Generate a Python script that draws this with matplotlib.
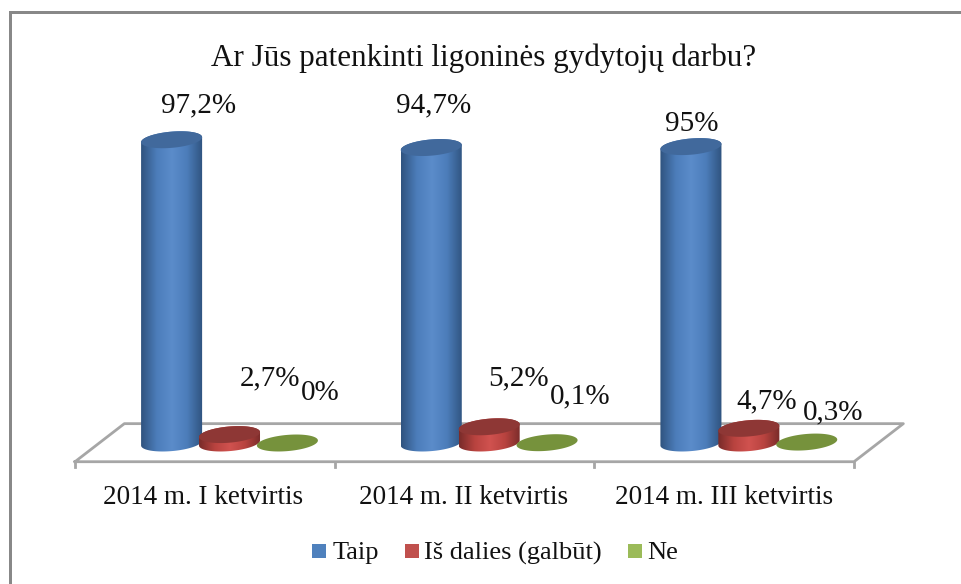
import numpy as np
import matplotlib
matplotlib.use('Agg')
import matplotlib.pyplot as plt
from matplotlib.colors import LinearSegmentedColormap
from matplotlib.patches import Polygon, Rectangle

plt.rcParams['font.family'] = ['Liberation Serif', 'DejaVu Serif']

# Data
quarters = ['2014 m. I ketvirtis', '2014 m. II ketvirtis', '2014 m. III ketvirtis']
taip = [97.2, 94.7, 95]
is_dalies = [2.7, 5.2, 4.7]
ne = [0, 0.1, 0.3]
taip_labels = ['97,2%', '94,7%', '95%']
is_dalies_labels = ['2,7%', '5,2%', '4,7%']
ne_labels = ['0%', '0,1%', '0,3%']
series_names = ['Taip', 'Iš dalies (galbūt)', 'Ne']

W, H = 961, 584
X0, X1 = 75, 854
Y_ZERO, PX_PER_PCT = 443, 3.12
Y_MIN = -12
BAR_W = 0.235
ELL_H = 2.6
TILT = 0.8

fig = plt.figure(figsize=(W / 100, H / 100), dpi=100)
ax = fig.add_axes([X0 / W, 1 - (Y_ZERO - Y_MIN * PX_PER_PCT) / H, (X1 - X0) / W, (100 - Y_MIN) * PX_PER_PCT / H])
ax.axis('off')

# chart frame, only the top and left edges are in the picture
frame_c = '#888888'
fig.add_artist(Rectangle((9 / W, 0), 3 / W, 1 - 11 / H, transform=fig.transFigure, fc=frame_c, ec='none'))
fig.add_artist(Rectangle((9 / W, 1 - 14 / H), 1 - 9 / W, 3 / H, transform=fig.transFigure, fc=frame_c, ec='none'))

# floor
grey = '#a6a6a6'
dx, front, back = 0.19, -6, 6.2
ax.plot([0, dx, 3 + dx, 3, 0], [front, back, back, front, front], c=grey, lw=2, clip_on=False, zorder=1)
for i in range(4):
    ax.plot([i, i], [front, front - 1.7], c=grey, lw=2, clip_on=False, zorder=1)


def ellipse_pts(cx, y, width):
    t = np.linspace(0, 2 * np.pi, 100)
    return cx + width / 2 * np.cos(t), y + ELL_H * np.sin(t) + TILT * np.cos(t)


def cylinder(cx, value, width, light, mid, dark, top_c, z):
    t = np.linspace(np.pi, 2 * np.pi, 60)
    xb = cx + width / 2 * np.cos(t)
    yb = ELL_H * np.sin(t) + TILT * np.cos(t)
    t2 = np.linspace(0, np.pi, 60)
    xt = cx + width / 2 * np.cos(t2)
    yt = value + ELL_H * np.sin(t2) + TILT * np.cos(t2)
    body = Polygon(np.column_stack([np.r_[xb, xt], np.r_[yb, yt]]), closed=True,
                   transform=ax.transData, fc='none', ec='none')
    ax.add_patch(body)
    cmap = LinearSegmentedColormap.from_list('c', [dark, mid, light, mid, dark])
    im = ax.imshow(np.linspace(0, 1, 64).reshape(1, -1), cmap=cmap, aspect='auto',
                   extent=[cx - width / 2, cx + width / 2, -ELL_H - 2, value + ELL_H + 2],
                   zorder=z)
    im.set_clip_path(body)
    ex, ey = ellipse_pts(cx, value, width)
    ax.fill(ex, ey, c=top_c, lw=0, zorder=z + 0.1, clip_on=False)


for i in range(3):
    cylinder(i + 0.372, taip[i], BAR_W, '#5b8cca', '#4c7dba', '#305480', '#41699c', 3)
    cylinder(i + 0.595, is_dalies[i], BAR_W, '#d0524f', '#b8433f', '#7a2c2a', '#8e3735', 4)
    ex, ey = ellipse_pts(i + 0.818, ne[i], BAR_W)
    ax.fill(ex, ey, c='#76923c', lw=0, zorder=5, clip_on=False)
ax.set_xlim(0, 3)
ax.set_ylim(Y_MIN, 100)

# value labels
label_px = [[(199, 105), (270, 378), (320, 393)],
            [(434, 105), (518, 378), (580, 396)],
            [(692, 124), (767, 401), (833, 412)]]
for i in range(3):
    for j, txt in enumerate([taip_labels[i], is_dalies_labels[i], ne_labels[i]]):
        x, y = label_px[i][j]
        fig.text(x / W, 1 - y / H, txt, fontsize=21, ha='center', va='center', color='#111111')

# category labels
for i, name in enumerate(quarters):
    fig.text((203 + i * 260.5) / W, 1 - 497 / H, name, fontsize=19.5, ha='center', va='center', color='#111111')

fig.text(484 / W, 1 - 58 / H, 'Ar Jūs patenkinti ligoninės gydytojų darbu?', fontsize=22.4,
         ha='center', va='center', color='#111111')

# legend
legend_colors = ['#4f81bd', '#c0504d', '#9bbb59']
legend_sw = [312, 405, 628]
legend_tx = [333, 424, 647]
for name, c, sw, tx in zip(series_names, legend_colors, legend_sw, legend_tx):
    fig.add_artist(Rectangle((sw / W, 1 - 558 / H), 14 / W, 14 / H, transform=fig.transFigure, fc=c, ec='none'))
    fig.text(tx / W, 1 - 553 / H, name, fontsize=19, ha='left', va='center', color='#111111')

fig.savefig('out.png', dpi=100)
